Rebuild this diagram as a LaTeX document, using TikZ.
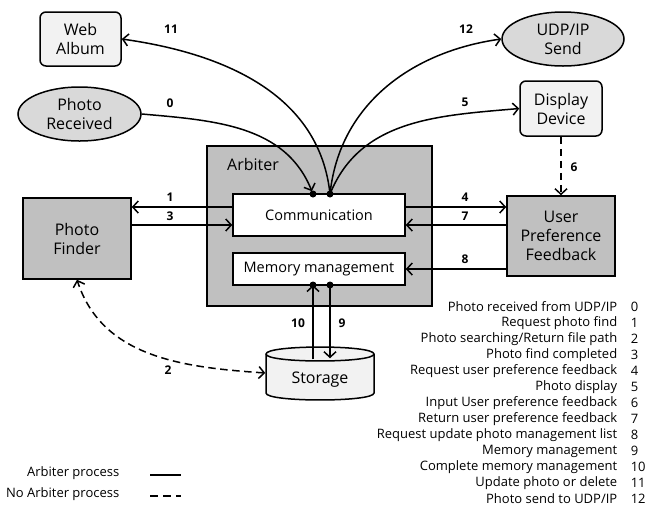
\documentclass[tikz,border=0pt]{standalone}
\usepackage{fontspec}
\setmainfont{Open Sans}
\usetikzlibrary{arrows.meta,shapes.geometric}
\definecolor{boxgray}{HTML}{C0C0C0}
\definecolor{ellgray}{HTML}{D9D9D9}
\definecolor{lightfill}{HTML}{F2F2F2}
\begin{document}
\begin{tikzpicture}[x=1pt,y=-1pt,line width=1.5pt,
  box/.style={draw,line width=1.5pt,align=center,inner sep=0pt,
    font=\fontsize{16}{19}\selectfont},
  roundbox/.style={box,rounded corners=6pt,fill=lightfill},
  ellbox/.style={box,ellipse,fill=ellgray},
  grayblock/.style={box,fill=boxgray},
  inner/.style={box,fill=white,font=\fontsize{14.5}{17}\selectfont},
  tip/.tip={Straight Barb[length=5.5pt,width=12pt,line width=1.5pt]},
  arr/.style={-tip},
  dasharr/.style={arr,dash pattern=on 7.5pt off 4.5pt},
  num/.style={font=\fontsize{12}{14}\selectfont\bfseries,inner sep=0pt},
  legtext/.style={anchor=east,inner sep=0pt,font=\fontsize{13}{15}\selectfont},
  legnum/.style={anchor=west,inner sep=0pt,font=\fontsize{13}{15}\selectfont},
  dot/.style={fill=black}
]
\useasboundingbox[fill=white] (0,0) rectangle (648,507);

% outer blocks
\node[roundbox,minimum width=81,minimum height=54] (web) at (80.5,39) {Web\\Album};
\node[ellbox,minimum width=123,minimum height=54] (recv) at (79.5,114) {Photo\\Received};
\node[ellbox,minimum width=122,minimum height=54] (udp) at (563,39) {UDP/IP\\Send};
\node[roundbox,minimum width=82,minimum height=55] (disp) at (561,108.5) {Display\\Device};
\node[grayblock,minimum width=108,minimum height=81] (finder) at (77,238.5) {Photo\\Finder};
\node[grayblock,minimum width=108,minimum height=80] (upf) at (561,236) {User\\Preference\\Feedback};

% arbiter with its two modules
\node[grayblock,minimum width=225,minimum height=160] (arb) at (319.5,226) {};
\node[font=\fontsize{16}{19}\selectfont,inner sep=0pt] (arblabel) at (253,164) {Arbiter};
\node[inner,minimum width=172,minimum height=42] (comm) at (319,215) {Communication};
\node[inner,minimum width=172,minimum height=32] (mem) at (319,269) {Memory management};

% storage cylinder
\path[fill=lightfill,draw] (266,354) -- (266,393)
  .. controls (266,402.3) and (374,402.3) .. (374,393) -- (374,354)
  .. controls (374,344.7) and (266,344.7) .. (266,354) -- cycle;
\draw (266,354) .. controls (266,363.3) and (374,363.3) .. (374,354);
\node[inner sep=0pt,minimum width=108,minimum height=40,
  font=\fontsize{16}{19}\selectfont] (storage) at (320,380) {Storage};

% connection points on the modules
\coordinate (c0) at (313,194);
\coordinate (c1) at (330,194);
\coordinate (m0) at (313,285);
\coordinate (m1) at (330,285);

% curved links at the top
\draw[arr,shorten >=3pt] (recv.east) to[out=-5,in=112] (c0);
\draw[arr] (c1) to[out=96,in=-8] (web.east);
\draw[arr] (c1) to[out=84,in=188] (udp.west);
\draw[arr] (c1) to[out=68,in=185] (disp.west);
\fill[dot] (c0) circle (3.5pt);
\fill[dot] (c1) circle (3.5pt);

% horizontal links
\draw[arr] (comm.west |- 0,207) -- (finder.east |- 0,207);
\draw[arr] (finder.east |- 0,225) -- (comm.west |- 0,225);
\draw[arr] (comm.east |- 0,207) -- (upf.west |- 0,207);
\draw[arr] (upf.west |- 0,225) -- (comm.east |- 0,225);
\draw[arr] (upf.west |- 0,269) -- (mem.east |- 0,269);

% dashed links
\draw[dasharr] (disp.south) -- (upf.north);
\draw[dasharr,tip-tip] ([yshift=7pt]storage.west) to[out=176,in=-72] (finder.south);

% memory and storage links
\draw[arr] (m0 |- storage.north) -- (m0);
\draw[arr] (m1) -- ([yshift=1pt]m1 |- storage.north);
\fill[dot] (m0) circle (3.5pt);
\fill[dot] (m1) circle (3.5pt);

% step numbers
\node[num] (n11) at (171,29) {11};
\node[num] (n0) at (170,103) {0};
\node[num] (n12) at (466,29) {12};
\node[num] (n5) at (465,102) {5};
\node[num] (n6) at (574,167) {6};
\node[num] (n1) at (170,197) {1};
\node[num] (n3) at (170,216) {3};
\node[num] (n4) at (465,197) {4};
\node[num] (n7) at (465,216) {7};
\node[num] (n8) at (465,259) {8};
\node[num] (n10) at (298,323) {10};
\node[num] (n9) at (342,323) {9};
\node[num] (n2) at (168,370) {2};

% legend of line styles
\node[legtext] (lsolid) at (120,473) {Arbiter process};
\node[legtext] (ldash) at (120,494) {No Arbiter process};
\coordinate (ls0) at (150,475);
\coordinate (ls1) at (181,475);
\coordinate (ld0) at (150,496);
\coordinate (ld1) at (181,496);
\draw (ls0) -- (ls1);
\draw[dash pattern=on 8pt off 5pt] (ld0) -- (ld1);

% list of steps
\foreach \i/\t in {0/{Photo received from UDP/IP},
  1/{Request photo find},
  2/{Photo searching/Return file path},
  3/{Photo find completed},
  4/{Request user preference feedback},
  5/{Photo display},
  6/{Input User preference feedback},
  7/{Return user preference feedback},
  8/{Request update photo management list},
  9/{Memory management},
  10/{Complete memory management},
  11/{Update photo or delete},
  12/{Photo send to UDP/IP}}{
  \node[legtext] (step\i) at (618,{307+16*\i}) {\t};
  \node[legnum] (stepnum\i) at (630,{307+16*\i}) {\i};
}
\end{tikzpicture}
\end{document}
